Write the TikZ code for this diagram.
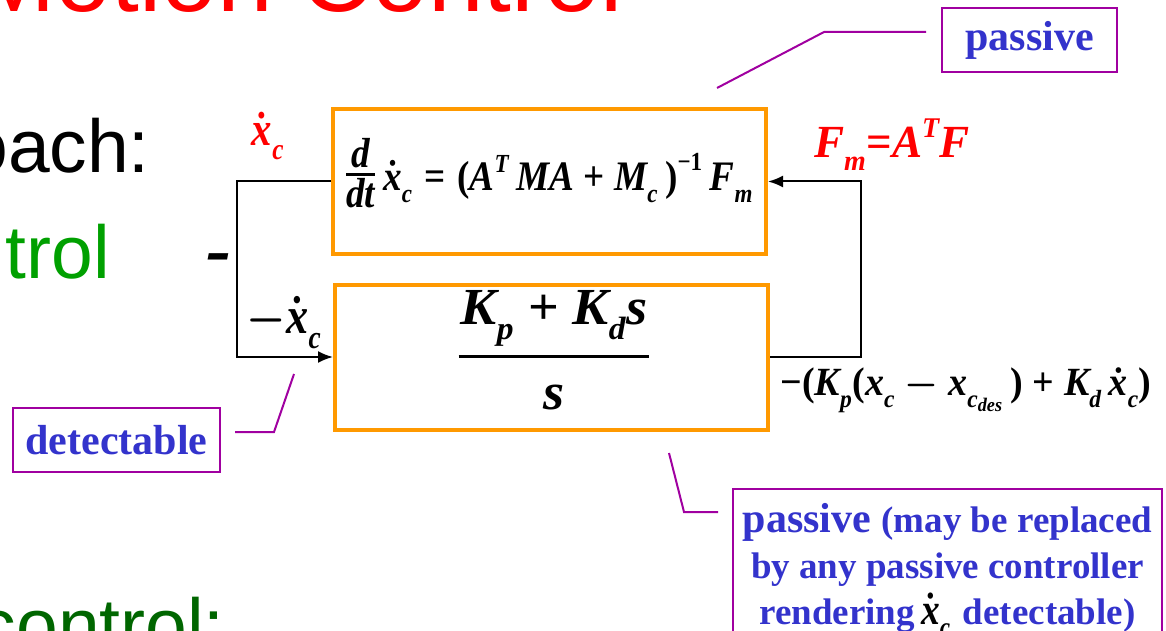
\RequirePackage{fix-cm}
\documentclass[tikz,border=0pt]{standalone}
\usepackage{amsmath}
\usepackage{fontspec}
\setmainfont{Liberation Serif}
\setsansfont{Liberation Sans}
\usetikzlibrary{arrows.meta}
\renewcommand\defaultscriptratio{.62}
\renewcommand\defaultscriptscriptratio{.48}
\definecolor{orangeC}{RGB}{255,153,0}
\definecolor{purpC}{RGB}{160,0,160}
\definecolor{blueC}{RGB}{51,51,204}
\definecolor{redC}{RGB}{255,0,0}
\definecolor{greenC}{RGB}{0,160,0}
\definecolor{dgreenC}{RGB}{0,102,0}
\newcommand\V[1]{\text{\bfseries\itshape #1}}
\newcommand\U[1]{\text{\bfseries #1}}
\newcommand\Pl{\mathbin{\U{+}}}
\newcommand\Eq{\mathrel{\U{=}}}
\newcommand\Neg{\mathord{\U{−}}}
\newcommand\Lp{\mathopen{\U{(}}}
\newcommand\Rp{\mathclose{\U{)}}}
\newcommand\xd{\dot{\V{x}}}
\newcommand\sbx[1]{_{\raisebox{-0.14em}{$\scriptstyle #1$}}}
\newcommand\M[2][0.85]{\scalebox{#1}[1]{$\medmuskip=4mu\relax\thickmuskip=5mu\relax #2$}}
\newcommand\myfrac[2]{\raisebox{0.12em}{$\genfrac{}{}{2.5pt}{1}{\displaystyle #1}{\displaystyle #2}$}}
\tikzset{
  obox/.style={draw=orangeC, line width=4pt, minimum width=433pt, minimum height=145pt, inner sep=0pt},
  pbox/.style={draw=purpC, line width=2pt, text=blueC, inner sep=0pt, font=\bfseries\fontsize{42}{48}\selectfont},
  lead/.style={draw=purpC, line width=2pt},
  conn/.style={line width=2pt, black},
  arr/.style={conn, -{Latex[length=15pt,width=12pt]}},
  mth/.style={inner sep=0pt, font=\fontsize{#1}{#1}\selectfont\boldmath},
  slide/.style={inner sep=0pt, anchor=base east, font=\sffamily\fontsize{#1}{#1}\selectfont},
}
\begin{document}
\begin{tikzpicture}[x=1pt,y=-1pt]
\useasboundingbox (0,0) rectangle (1166,631);
\clip (0,0) rectangle (1166,631);
% slide background text
\node[slide=100, text=redC] (t1) at (623,12) {Motion Control};
\node[slide=75, text=black] (t2) at (150,172) {oach:};
\node[slide=75, text=greenC] (t3) at (110,278) {trol};
\node[slide=75, text=dgreenC] (t4) at (225,651) {control:};
% blocks
\node[obox] (tb) at (549.5,181.5) {};
\node[obox] (bb) at (551.5,357) {};
\node[mth=42, anchor=base west] (eq1) at (345,190) {\M[0.885]{\myfrac{\V{d}}{\V{dt}}\,\xd\sbx{\V{c}} \Eq \Lp\V{A}^{\V{T}}\,\V{MA} \Pl \V{M}\sbx{\V{c}}\,\Rp^{\U{−1}}\,\V{F}\sbx{\V{m}}}};
\node[mth=52] (eq2) at (554,350) {\M[1.04]{\genfrac{}{}{3pt}{0}{\hspace{0.04em}\V{K}\sbx{\V{p}} \Pl \V{K}\sbx{\V{d}}\V{s}\hspace{0.04em}}{\V{s}}}};
% connectors
\coordinate (L) at (237,0);
\coordinate (R) at (861,0);
\draw[arr] (tb.west) -- (tb.west -| L) |- (bb.west);
\draw[arr] (bb.east) -- (bb.east -| R) |- (tb.east);
% signal labels
\node[mth=48, text=redC] (xc) at (268,136) {\M{\xd\sbx{\V{c}}}};
\node[inner sep=0pt, font=\bfseries\itshape\fontsize{75}{75}\selectfont] (mn) at (219,264) {-};
\node[mth=52] (mxc) at (284,323) {\M{{-}\xd\sbx{\V{c}}}};
\node[mth=46, text=redC] (fm) at (892,145) {\M[0.98]{\V{F}\sbx{\V{m}}\U{=}\V{A}^{\V{T}}\V{F}}};
\node[mth=40] (ctl) at (966,390) {\M[0.95]{\Neg\Lp\V{K}\sbx{\V{p}}\Lp\V{x}\sbx{\V{c}} - \V{x}\sbx{\V{c}_{\V{des}}}\,\Rp \Pl \V{K}\sbx{\V{d}}\,\xd\sbx{\V{c}}\Rp}};
% annotation boxes
\node[pbox, minimum width=175pt, minimum height=64pt] (pt) at (1029.5,40) {passive};
\node[pbox, minimum width=207pt, minimum height=64pt] (dt) at (116.5,440) {detectable};
\node[pbox, minimum width=429pt, minimum height=162pt, anchor=north, align=center] (pb) at (947.5,488)
  {passive {\fontsize{37}{44}\selectfont (may be replaced}\\[-2pt]
   {\fontsize{37}{44}\selectfont by any passive controller}\\[-2pt]
   {\fontsize{37}{44}\selectfont rendering\,\textcolor{black}{\fontsize{44}{44}\selectfont\boldmath\M{\xd\sbx{\V{c}}}}\,\,detectable)}};
% leaders
\coordinate (a1) at (926,32); \coordinate (a2) at (824,32); \coordinate (a3) at (717,88);
\draw[lead] (a1) -- (a2) -- (a3);
\coordinate (b1) at (235,432); \coordinate (b2) at (274,432); \coordinate (b3) at (294,374);
\draw[lead] (b1) -- (b2) -- (b3);
\coordinate (c1) at (718,512); \coordinate (c2) at (684,512); \coordinate (c3) at (669,453);
\draw[lead] (c1) -- (c2) -- (c3);
\end{tikzpicture}
\end{document}
